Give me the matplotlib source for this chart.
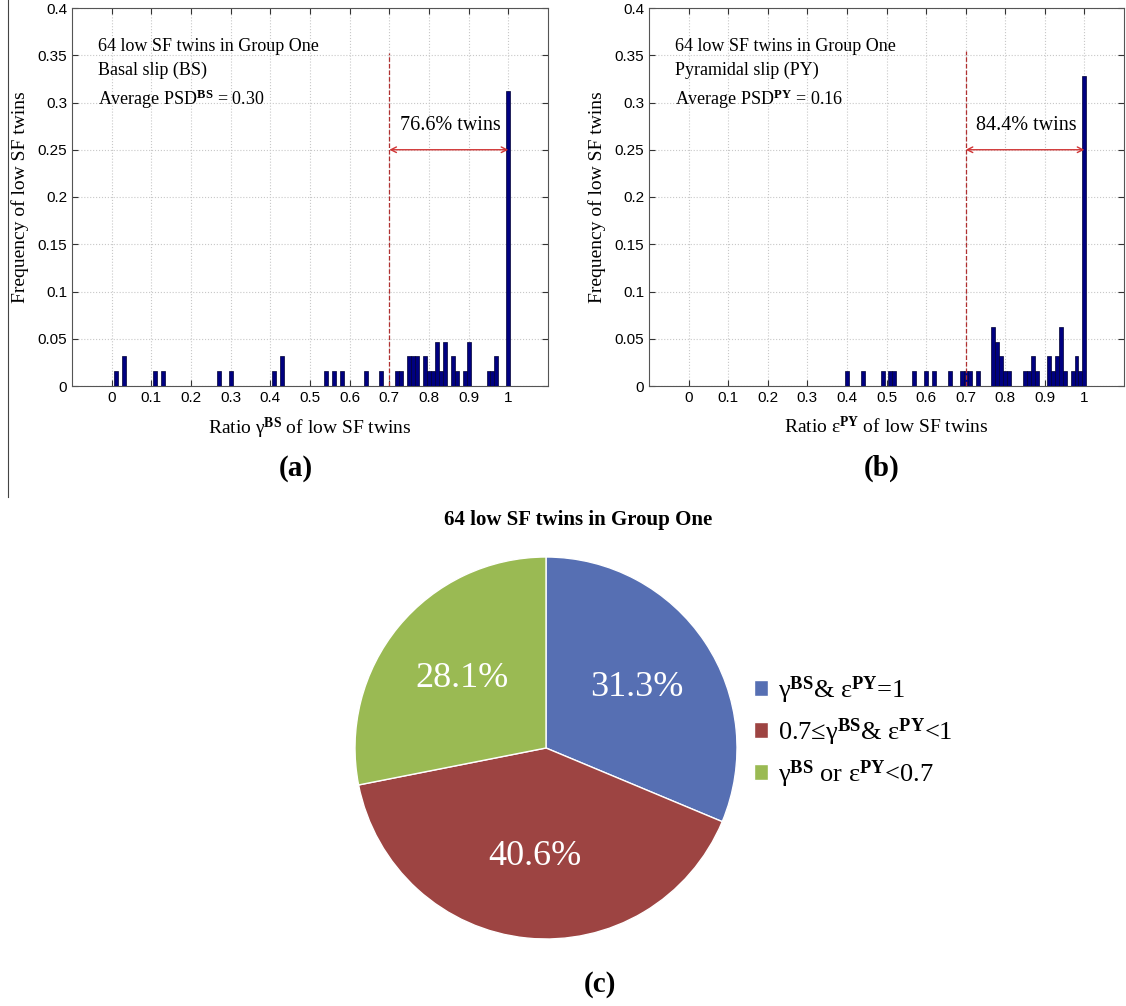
import matplotlib
matplotlib.use('Agg')
import matplotlib.pyplot as plt
from matplotlib.lines import Line2D

plt.rcParams['mathtext.fontset'] = 'custom'
plt.rcParams['mathtext.rm'] = 'Liberation Serif'
plt.rcParams['mathtext.it'] = 'Liberation Serif:italic'
plt.rcParams['mathtext.bf'] = 'Liberation Serif:bold'

serif = ['Liberation Serif', 'DejaVu Serif']
sans = ['Liberation Sans', 'DejaVu Sans']

n_twins = 64

# (a) basal slip ratio histogram (bin centre, number of twins)
bs_ratio = [0.01, 0.03, 0.11, 0.13, 0.27, 0.30, 0.41, 0.43, 0.54, 0.56, 0.58, 0.64, 0.68,
            0.72, 0.73, 0.75, 0.76, 0.77, 0.79, 0.80, 0.81, 0.82, 0.83, 0.84, 0.86, 0.87,
            0.89, 0.90, 0.95, 0.96, 0.97, 1.00]
bs_count = [1, 2, 1, 1, 1, 1, 1, 2, 1, 1, 1, 1, 1,
            1, 1, 2, 2, 2, 2, 1, 1, 3, 1, 3, 2, 1,
            1, 3, 1, 1, 2, 20]

# (b) pyramidal slip ratio histogram
py_ratio = [0.40, 0.44, 0.49, 0.51, 0.52, 0.57, 0.60, 0.62, 0.66, 0.69, 0.70, 0.71, 0.73,
            0.77, 0.78, 0.79, 0.80, 0.81, 0.85, 0.86, 0.87, 0.88, 0.91, 0.92, 0.93, 0.94,
            0.95, 0.97, 0.98, 0.99, 1.00]
py_count = [1, 1, 1, 1, 1, 1, 1, 1, 1, 1, 1, 1, 1,
            4, 3, 2, 1, 1, 1, 1, 2, 1, 2, 1, 2, 4,
            1, 1, 2, 1, 21]

# (c) pie
pie_labels = ['γ$^{\\mathbf{BS}}$& ε$^{\\mathbf{PY}}$=1',
              '0.7≤γ$^{\\mathbf{BS}}$& ε$^{\\mathbf{PY}}$<1',
              'γ$^{\\mathbf{BS}}$ or ε$^{\\mathbf{PY}}$<0.7']
pie_pct = [31.3, 40.6, 28.1]
pie_colors = ['#566fb3', '#9d4442', '#9aba53']

xticks = [0, 0.1, 0.2, 0.3, 0.4, 0.5, 0.6, 0.7, 0.8, 0.9, 1]
yticks = [0, 0.05, 0.1, 0.15, 0.2, 0.25, 0.3, 0.35, 0.4]

W, H = 1126, 1006
fig = plt.figure(figsize=(W / 100, H / 100), dpi=100)


def px_box(l, t, r, b):
    return [l / W, 1 - b / H, (r - l) / W, (b - t) / H]


def hist_panel(box, ratio, count, info, xlabel, pct, vtop):
    ax = fig.add_axes(px_box(*box))
    freq = [c / n_twins for c in count]
    ax.bar(ratio, freq, width=0.01, color='#000080', edgecolor='#000033', linewidth=0.5, zorder=3)
    ax.set_xlim(-0.1, 1.1)
    ax.set_ylim(0, 0.4)
    ax.set_xticks(xticks)
    ax.set_xticklabels([f'{t:g}' for t in xticks])
    ax.set_yticks(yticks)
    ax.set_yticklabels([f'{t:g}' for t in yticks])
    ax.tick_params(direction='in', top=True, right=True, labelsize=11, length=4, colors='#333333')
    for lab in ax.get_xticklabels() + ax.get_yticklabels():
        lab.set_family(sans)
        lab.set_color('black')
    for s in ax.spines.values():
        s.set_color('#555555')
        s.set_linewidth(0.8)
    ax.grid(True, linestyle=':', color='#c8c8c8', linewidth=0.8, zorder=0)
    ax.set_axisbelow(True)
    ax.set_xlabel(xlabel, family=serif, fontsize=14, labelpad=8)
    ax.set_ylabel('Frequency of low SF twins', family=serif, fontsize=14, labelpad=6)
    ax.text(-0.035, 0.368, info, family=serif, fontsize=13, va='top', ha='left', linespacing=1.5)
    ax.plot([0.7, 0.7], [0, vtop], linestyle='--', color='#b03030', linewidth=0.9, zorder=4)
    ax.annotate('', xy=(1.0, 0.25), xytext=(0.7, 0.25),
                arrowprops=dict(arrowstyle='<->', color='#d03535', lw=1.0, shrinkA=0, shrinkB=0),
                zorder=5)
    ax.text(0.853, 0.266, pct, family=serif, fontsize=14.5, ha='center', va='bottom')
    return ax


hist_panel((72, 8, 548, 386), bs_ratio, bs_count,
           '64 low SF twins in Group One\nBasal slip (BS)\nAverage PSD$^{\\mathbf{BS}}$ = 0.30',
           'Ratio γ$^{\\mathbf{BS}}$ of low SF twins', '76.6% twins', 0.352)
hist_panel((649, 8, 1124, 386), py_ratio, py_count,
           '64 low SF twins in Group One\nPyramidal slip (PY)\nAverage PSD$^{\\mathbf{PY}}$ = 0.16',
           'Ratio ε$^{\\mathbf{PY}}$ of low SF twins', '84.4% twins', 0.355)

fig.text(296 / W, 1 - 468 / H, '(a)', family=serif, fontweight='bold', fontsize=21, ha='center', va='center')
fig.text(882 / W, 1 - 468 / H, '(b)', family=serif, fontweight='bold', fontsize=21, ha='center', va='center')
fig.text(600 / W, 1 - 985 / H, '(c)', family=serif, fontweight='bold', fontsize=21, ha='center', va='center')

# thin frame line at the left of the top row
fig.add_artist(Line2D([8 / W, 8 / W], [1, 1 - 497 / H], color='#444444', linewidth=0.8))

# pie
axp = fig.add_axes(px_box(546 - 191, 748 - 191, 546 + 191, 748 + 191))
wedges, _, autotexts = axp.pie(pie_pct, colors=pie_colors, startangle=90, counterclock=False,
                               autopct='%.1f%%', pctdistance=0.57, radius=1,
                               wedgeprops=dict(edgecolor='white', linewidth=1.0))
for t in autotexts:
    t.set_color('white')
    t.set_family(serif)
    t.set_fontsize(26)
axp.set_aspect('equal')
axp.set_xlim(-1, 1)
axp.set_ylim(-1, 1)

fig.text(578 / W, 1 - 520 / H, '64 low SF twins in Group One', family=serif, fontweight='bold',
         fontsize=15, ha='center', va='center')

fig.legend(wedges, pie_labels, loc='center left', bbox_to_anchor=(730 / W, 1 - 732 / H),
           frameon=False, prop={'family': serif, 'size': 19}, handlelength=0.55, handleheight=0.55,
           handletextpad=0.35, labelspacing=0.4)

fig.savefig('out.png', dpi=100, facecolor='white')
